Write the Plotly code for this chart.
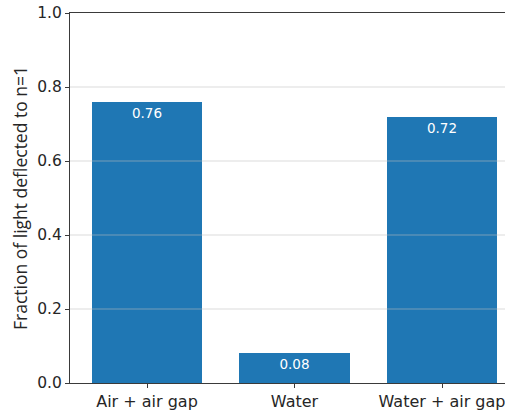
import plotly.graph_objects as go

# Measured fraction of light diffracted into the first order
conditions = ["Air + air gap", "Water", "Water + air gap"]
fractions = [0.76, 0.08, 0.72]
y_ticks = [0.0, 0.2, 0.4, 0.6, 0.8, 1.0]

bar_color = "#1f77b4"
axis_color = "#3a3a3a"
text_color = "#262626"
font_family = "DejaVu Sans"

fig = go.Figure()
fig.add_trace(
    go.Bar(
        x=conditions,
        y=fractions,
        width=0.75,
        marker=dict(color=bar_color, line=dict(width=0)),
        text=[f"{v:.2f}" for v in fractions],
        textposition="inside",
        insidetextanchor="end",
        textangle=0,
        constraintext="none",
        textfont=dict(color="white", size=13.5, family=font_family),
        hoverinfo="skip",
    )
)

# Horizontal grid drawn over the bars
for t in y_ticks[1:-1]:
    fig.add_shape(
        type="line",
        xref="paper", yref="y",
        x0=0, x1=1, y0=t, y1=t,
        line=dict(color="rgba(190,190,190,0.55)", width=1.2),
        layer="above",
    )

fig.update_layout(
    width=505,
    height=410,
    margin=dict(l=70, r=0, t=13, b=27),
    paper_bgcolor="white",
    plot_bgcolor="white",
    showlegend=False,
    font=dict(family=font_family, color=text_color, size=15),
    bargap=0,
)

fig.update_xaxes(
    type="category",
    range=[-0.522, 2.427],
    showline=True,
    linecolor=axis_color,
    linewidth=1.2,
    mirror=True,
    ticks="outside",
    ticklen=4,
    tickwidth=1,
    tickcolor=axis_color,
    showgrid=False,
    tickfont=dict(size=16, family=font_family, color=text_color),
)

fig.update_yaxes(
    range=[0, 1],
    tickvals=y_ticks,
    ticktext=[f"{t:.1f}" for t in y_ticks],
    showline=True,
    linecolor=axis_color,
    linewidth=1.2,
    ticks="outside",
    ticklen=4,
    tickwidth=1,
    tickcolor=axis_color,
    showgrid=False,
    zeroline=False,
    tickfont=dict(size=15.5, family=font_family, color=text_color),
    title=dict(
        text="Fraction of light deflected to n=1",
        font=dict(size=17.5, family="Open Sans", color=text_color),
        standoff=5,
    ),
)

fig.write_html("out.html")
